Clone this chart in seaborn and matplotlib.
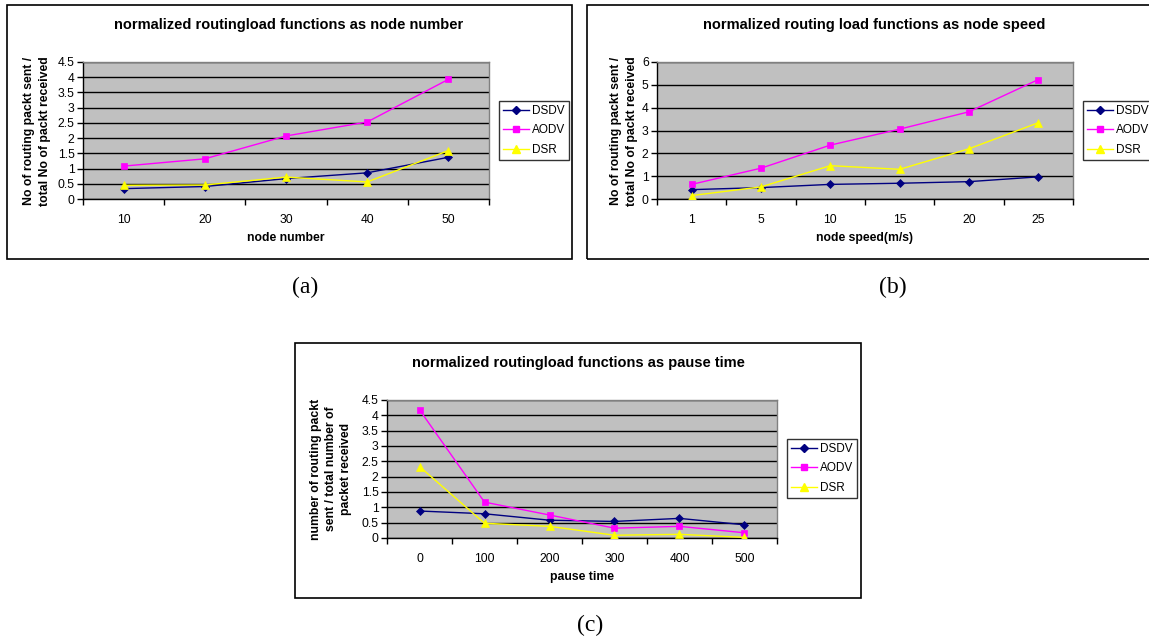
import matplotlib
matplotlib.use("Agg")
import matplotlib.pyplot as plt
import seaborn as sns
import pandas as pd
from matplotlib.patches import Rectangle
from matplotlib.lines import Line2D
from matplotlib.ticker import FuncFormatter

# ---------------- data ----------------
protocols = ["DSDV", "AODV", "DSR"]

node_numbers = ["10", "20", "30", "40", "50"]
a_dsdv = [0.34, 0.41, 0.67, 0.86, 1.37]
a_aodv = [1.08, 1.32, 2.07, 2.53, 3.93]
a_dsr = [0.45, 0.46, 0.72, 0.56, 1.59]

node_speeds = ["1", "5", "10", "15", "20", "25"]
b_dsdv = [0.41, 0.50, 0.64, 0.69, 0.76, 0.97]
b_aodv = [0.64, 1.35, 2.36, 3.06, 3.82, 5.23]
b_dsr = [0.15, 0.53, 1.46, 1.30, 2.20, 3.34]

pause_times = ["0", "100", "200", "300", "400", "500"]
c_dsdv = [0.88, 0.79, 0.58, 0.54, 0.64, 0.43]
c_aodv = [4.18, 1.17, 0.75, 0.32, 0.38, 0.17]
c_dsr = [2.33, 0.48, 0.38, 0.09, 0.12, 0.02]

titles = ["normalized routingload functions as node number",
          "normalized routing load functions as node speed",
          "normalized routingload functions as pause time"]
xlabels = ["node number", "node speed(m/s)", "pause time"]
ylabels = ["No of routing packt sent /\ntotal No of packt received",
           "No of routing packt sent /\ntotal No of packt received",
           "number of routing packt\nsent / total number of\npacket received"]
captions = ["(a)", "(b)", "(c)"]

# ---------------- style ----------------
W, H = 1149, 641
colors = {"DSDV": "#000080", "AODV": "#FF00FF", "DSR": "#FFFF00"}
markers = {"DSDV": "D", "AODV": "s", "DSR": "^"}
msizes = {"DSDV": 3.6, "AODV": 4.6, "DSR": 5.2}
SANS = ["Liberation Sans", "DejaVu Sans"]
plt.rcParams["font.family"] = SANS

fig = plt.figure(figsize=(W / 100, H / 100), dpi=100)
fig.patch.set_facecolor("white")


def fx(x):
    return x / W


def fy(y):
    return 1 - y / H


def add_panel(cats, vals, ymax, ystep, plot_px, frame_px, legend_px,
              title, title_px, xlabel, xlabel_px, ylabel, ylabel_px, ylab_ls,
              caption, caption_px):
    l, t, r, b = plot_px
    ax = fig.add_axes([fx(l), fy(b), (r - l) / W, (b - t) / H])
    ax.set_facecolor("#C0C0C0")
    ax.set_axisbelow(True)

    rows = []
    for p, v in zip(protocols, vals):
        for i, val in enumerate(v):
            rows.append({"pos": i, "value": val, "protocol": p})
    df = pd.DataFrame(rows)
    sns.lineplot(data=df, x="pos", y="value", hue="protocol", style="protocol",
                 hue_order=protocols, style_order=protocols,
                 palette=colors, markers=markers, dashes=False,
                 linewidth=1.0, legend=False, ax=ax, zorder=3)
    for line, p in zip(ax.lines, protocols):
        line.set_markeredgecolor(colors[p])
        line.set_markerfacecolor(colors[p])
        line.set_markersize(msizes[p])
        line.set_markeredgewidth(0.5)

    n = len(cats)
    ax.set_xlim(-0.5, n - 0.5)
    ax.set_ylim(0, ymax)
    yt = [round(k * ystep, 6) for k in range(int(round(ymax / ystep)) + 1)]
    ax.set_yticks(yt)
    ax.yaxis.set_major_formatter(FuncFormatter(lambda v, _: f"{v:g}"))
    ax.yaxis.grid(True, color="black", linewidth=1.0)
    ax.xaxis.grid(False)
    ax.set_xticks(range(n))
    ax.set_xticklabels(cats)
    ax.set_xticks([k - 0.5 for k in range(n + 1)], minor=True)
    ax.tick_params(axis="x", which="major", length=0, pad=11, labelsize=8.7)
    ax.tick_params(axis="x", which="minor", length=4, width=1, direction="out",
                   color="black")
    ax.tick_params(axis="y", which="major", length=4, width=1, direction="out",
                   pad=2, labelsize=8.7, color="black")
    for s in ["top", "right"]:
        ax.spines[s].set_color("#808080")
        ax.spines[s].set_linewidth(1.0)
    for s in ["left", "bottom"]:
        ax.spines[s].set_color("black")
        ax.spines[s].set_linewidth(1.0)
    ax.set_xlabel("")
    ax.set_ylabel("")

    # chart frame
    fl, ft, fr, fb = frame_px
    fig.add_artist(Rectangle((fx(fl), fy(fb)), (fr - fl) / W, (fb - ft) / H,
                             transform=fig.transFigure, fill=False,
                             edgecolor="black", linewidth=1.2, zorder=0))

    # legend
    ll, lt = legend_px
    handles = [Line2D([0], [0], color=colors[p], marker=markers[p],
                      markersize=msizes[p], markeredgecolor=colors[p],
                      linewidth=1.0) for p in protocols]
    leg = ax.legend(handles, protocols, loc="upper left",
                    bbox_to_anchor=(fx(ll), fy(lt)),
                    bbox_transform=fig.transFigure,
                    frameon=True, fancybox=False, edgecolor="black",
                    fontsize=8.5, handlelength=2.2, handletextpad=0.25,
                    labelspacing=0.62, borderpad=0.35, borderaxespad=0)
    leg.get_frame().set_linewidth(1.0)

    fig.text(fx(title_px[0]), fy(title_px[1]), title, ha="center", va="center",
             fontsize=10.5, fontweight="bold")
    fig.text(fx(xlabel_px[0]), fy(xlabel_px[1]), xlabel, ha="center",
             va="center", fontsize=8.8, fontweight="bold")
    fig.text(fx(ylabel_px[0]), fy(ylabel_px[1]), ylabel, ha="center",
             va="center", rotation=90, fontsize=8.8, fontweight="bold",
             multialignment="center", linespacing=ylab_ls)
    fig.text(fx(caption_px[0]), fy(caption_px[1]), caption, ha="center",
             va="center", fontsize=17, family=["Liberation Serif", "DejaVu Serif"])
    return ax


add_panel(node_numbers, [a_dsdv, a_aodv, a_dsr], 4.5, 0.5,
          plot_px=(83, 62, 489, 199), frame_px=(7, 5, 572, 259),
          legend_px=(499, 101),
          title=titles[0], title_px=(289, 25),
          xlabel=xlabels[0], xlabel_px=(286, 238),
          ylabel=ylabels[0], ylabel_px=(37, 131), ylab_ls=1.45,
          caption=captions[0], caption_px=(305, 287))

add_panel(node_speeds, [b_dsdv, b_aodv, b_dsr], 6, 1,
          plot_px=(657, 62, 1073, 199), frame_px=(587, 5, 1165, 259),
          legend_px=(1083, 101),
          title=titles[1], title_px=(874, 25),
          xlabel=xlabels[1], xlabel_px=(865, 238),
          ylabel=ylabels[1], ylabel_px=(624, 131), ylab_ls=1.45,
          caption=captions[1], caption_px=(893, 287))

add_panel(pause_times, [c_dsdv, c_aodv, c_dsr], 4.5, 0.5,
          plot_px=(387, 400, 777, 538), frame_px=(295, 343, 861, 598),
          legend_px=(787, 439),
          title=titles[2], title_px=(578, 363),
          xlabel=xlabels[2], xlabel_px=(582, 577),
          ylabel=ylabels[2], ylabel_px=(331, 469), ylab_ls=1.3,
          caption=captions[2], caption_px=(590, 625))

fig.savefig("out.png", dpi=100, facecolor="white")
